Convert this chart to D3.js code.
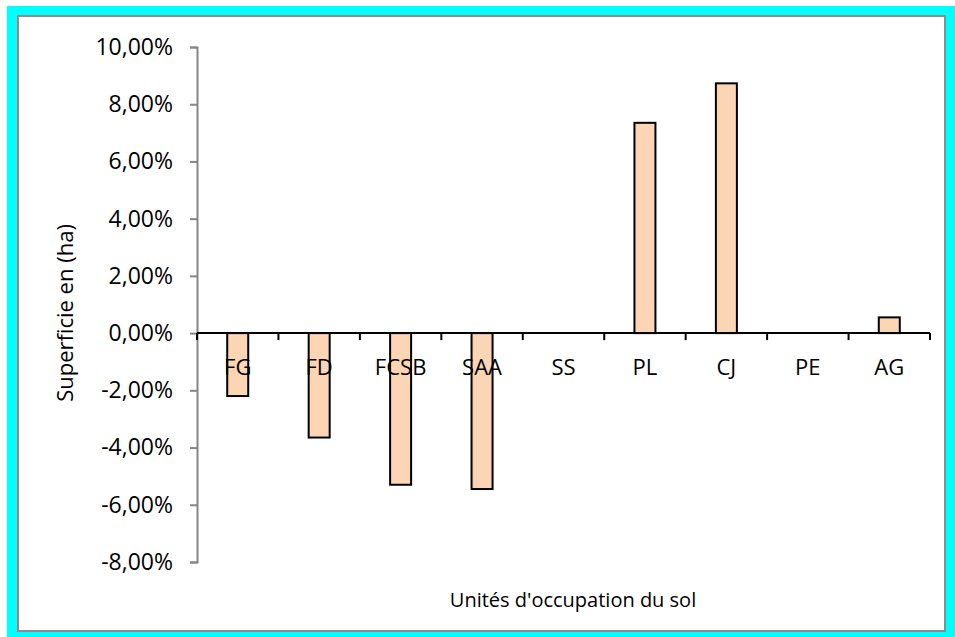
<!DOCTYPE html>
<html>
<head>
<meta charset="utf-8">
<script src="https://cdn.jsdelivr.net/npm/d3@7"></script>
<style>
  html, body { margin: 0; padding: 0; background: #fff; }
  svg { display: block; }
  text { font-family: "Open Sans", "Noto Sans", sans-serif; fill: #000; }
</style>
</head>
<body>
<svg id="chart" width="955" height="637"></svg>
<script>
// Land-use units and their change in surface (fraction)
const categories = ["FG", "FD", "FCSB", "SAA", "SS", "PL", "CJ", "PE", "AG"];
const changes = [-0.022, -0.0365, -0.053, -0.0545, 0, 0.0735, 0.0873, 0, 0.0055];
const yTicks = [0.10, 0.08, 0.06, 0.04, 0.02, 0, -0.02, -0.04, -0.06, -0.08];
const yTitle = "Superficie en (ha)";
const xTitle = "Unités d'occupation du sol";

const svg = d3.select("#chart");

// Frame: cyan border with a white panel inside
svg.append("rect").attr("x", 7).attr("y", 6).attr("width", 948).attr("height", 631).attr("fill", "#00FFFF");
svg.append("rect").attr("x", 18).attr("y", 16).attr("width", 927).attr("height", 615)
  .attr("fill", "#fff").attr("stroke", "#8c8c8c").attr("stroke-width", 2);

const left = 197, right = 930;
const y = d3.scaleLinear().domain([-0.08, 0.10]).range([562, 47]);
const x = d3.scaleBand().domain(categories).range([left, right]).paddingInner(0).paddingOuter(0);

const fmt = v => (v * 100).toFixed(2).replace(".", ",") + "%";

// Y axis
const yAxis = d3.axisLeft(y).tickValues(yTicks).tickFormat(fmt).tickSize(7).tickPadding(17);
const gy = svg.append("g").attr("transform", `translate(${left},0)`).call(yAxis);
gy.select(".domain").attr("stroke", "#868686").attr("stroke-width", 2);
gy.selectAll(".tick line").attr("stroke", "#868686").attr("stroke-width", 2);
gy.selectAll(".tick text").attr("font-size", 23).attr("font-family", "Open Sans").attr("fill", "#000");

// Bars
const barW = 21;
svg.append("g").selectAll("rect").data(categories.map((c, i) => ({ c, v: changes[i] })))
  .join("rect")
  .filter(d => d.v !== 0)
  .attr("x", d => x(d.c) + x.bandwidth() / 2 - barW / 2)
  .attr("y", d => y(Math.max(0, d.v)))
  .attr("width", barW)
  .attr("height", d => Math.abs(y(d.v) - y(0)))
  .attr("fill", "#FCD5B5")
  .attr("stroke", "#000")
  .attr("stroke-width", 2);

// X axis at zero with tick marks at category boundaries
const gx = svg.append("g").attr("transform", `translate(0,${y(0)})`);
gx.append("line").attr("x1", left).attr("x2", right).attr("stroke", "#000").attr("stroke-width", 2);
const bounds = categories.map(c => x(c)).concat([right]);
gx.selectAll("line.tk").data(bounds).join("line").attr("class", "tk")
  .attr("x1", d => d).attr("x2", d => d).attr("y1", 0).attr("y2", 7)
  .attr("stroke", "#000").attr("stroke-width", 2);
gx.selectAll("text.cat").data(categories).join("text").attr("class", "cat")
  .attr("x", d => x(d) + x.bandwidth() / 2)
  .attr("y", 42)
  .attr("text-anchor", "middle")
  .attr("font-size", 22)
  .text(d => d);

// Axis titles
svg.append("text").attr("x", 573).attr("y", 607).attr("text-anchor", "middle")
  .attr("font-size", 20).text(xTitle);
svg.append("text").attr("transform", "translate(73,313) rotate(-90)").attr("text-anchor", "middle")
  .attr("font-size", 22).text(yTitle);
</script>
</body>
</html>
